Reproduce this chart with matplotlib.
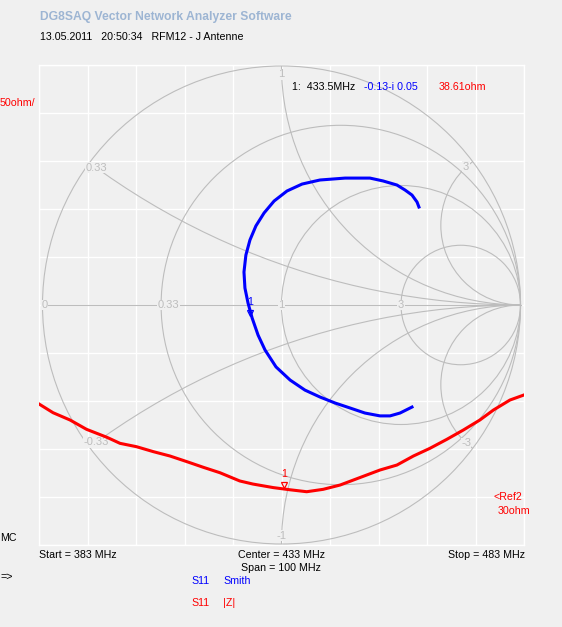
import numpy as np
import matplotlib.pyplot as plt
from matplotlib.patches import Circle
from matplotlib.transforms import offset_copy

plt.rcParams['font.family'] = ['Liberation Sans', 'DejaVu Sans']

# S11 Smith trace (reflection coefficient), 383 -> 483 MHz
s11_re = [0.546, 0.496, 0.454, 0.412, 0.349, 0.287, 0.224, 0.161, 0.098, 0.036,
          -0.023, -0.069, -0.098, -0.123, -0.140, -0.153, -0.157, -0.149, -0.132,
          -0.107, -0.073, -0.031, 0.023, 0.086, 0.161, 0.266, 0.370, 0.425, 0.483,
          0.517, 0.546, 0.567, 0.575]
s11_im = [-0.427, -0.452, -0.464, -0.464, -0.452, -0.431, -0.410, -0.385, -0.356,
          -0.314, -0.259, -0.188, -0.126, -0.054, 0.008, 0.071, 0.138, 0.209, 0.272,
          0.331, 0.385, 0.435, 0.477, 0.506, 0.523, 0.531, 0.531, 0.519, 0.502,
          0.481, 0.460, 0.431, 0.410]

# S11 |Z| trace in ohm
freq_mhz = [383.0, 385.9, 389.4, 392.8, 397.0, 399.7, 403.1, 406.6, 410.0, 413.5,
            416.9, 420.3, 424.4, 427.1, 431.3, 434.8, 438.2, 441.6, 445.1, 453.3,
            456.8, 460.2, 463.6, 467.1, 470.5, 473.9, 476.7, 480.1, 483.0]
z_mag = [126.9, 117.8, 110.2, 100.5, 92.2, 85.9, 82.4, 77.2, 72.7, 66.8,
         60.9, 55.3, 46.7, 43.5, 39.8, 37.5, 35.5, 38.0, 42.5, 58.1,
         63.3, 72.7, 80.7, 90.1, 99.8, 110.2, 120.6, 131.0, 136.3]

# marker 1
mk_freq = 433.5
mk_re, mk_im = -0.13, -0.05
mk_z = 38.61

# smith grid
r_values = [0, 0.33, 1, 3]
r_labels = ['0', '0.33', '1', '3']
x_values = [0.33, 1, 3, -0.33, -1, -3]
x_labels = ['0.33', '1', '3', '-0.33', '-1', '-3']

bg = '#f0f0f0'
gray = '#bdbdbd'
W, H = 562, 627
fs = 7.7

fig = plt.figure(figsize=(W / 100, H / 100), dpi=100, facecolor=bg)
pos = [39 / W, (H - 545) / H, 485 / W, 480 / H]

# |Z| axes with the white grid
ax_z = fig.add_axes(pos)
ax_z.set_facecolor(bg)
ax_z.set_xlim(383, 483)
ax_z.set_ylim(-20, 480)
ax_z.set_xticks(np.arange(383, 484, 10))
ax_z.set_yticks(np.arange(-20, 481, 50))
ax_z.grid(color='white', lw=1)
ax_z.tick_params(length=0, labelbottom=False, labelleft=False)
for s in ax_z.spines.values():
    s.set_color('white')
    s.set_linewidth(1)

# Smith axes
ax_s = fig.add_axes(pos, frameon=False)
ax_s.set_xlim(-242.5 / 239, 242.5 / 239)
ax_s.set_ylim(-240 / 239, 240 / 239)
ax_s.axis('off')

unit = Circle((0, 0), 1, fill=False, ec=gray, lw=0.8)
ax_s.add_patch(unit)
for r in r_values[1:]:
    ax_s.add_patch(Circle((r / (1 + r), 0), 1 / (1 + r), fill=False, ec=gray, lw=0.8))
for x in x_values:
    arc = Circle((1, 1 / x), 1 / abs(x), fill=False, ec=gray, lw=0.8)
    ax_s.add_patch(arc)
    arc.set_clip_path(unit)
ax_s.plot([-1, 1], [0, 0], color=gray, lw=0.8)

lab_kw = dict(color=gray, fontsize=fs + 0.3, ha='center', va='center',
              bbox=dict(fc=bg, ec='none', pad=0.3))
for r, lab in zip(r_values, r_labels):
    gx = (r - 1) / (r + 1)
    if r == 0:
        gx = -0.99
    if r == 0.33:
        gx += 0.03
    ax_s.text(gx, 0, lab, **lab_kw)
for x, lab in zip(x_values, x_labels):
    g = (1j * x - 1) / (1j * x + 1)
    ax_s.text(0.965 * g.real, 0.965 * g.imag, lab, **lab_kw)

ax_s.plot(s11_re, s11_im, color='#0000ff', lw=2.2)
tr = offset_copy(ax_s.transData, fig=fig, y=2.5, units='points')
ax_s.plot([mk_re], [mk_im], marker='v', ms=5, mfc='none', mec='#0000ff',
          mew=0.9, transform=tr)
ax_s.annotate('1', (mk_re, mk_im), xytext=(0, 7), textcoords='offset points',
              color='#0000ff', fontsize=fs, ha='center', va='bottom')

# |Z| trace on top
ax_r = fig.add_axes(pos, frameon=False)
ax_r.set_xlim(383, 483)
ax_r.set_ylim(-20, 480)
ax_r.axis('off')
ax_r.plot(freq_mhz, z_mag, color='#ff0000', lw=2.2)
tr = offset_copy(ax_r.transData, fig=fig, y=2.5, units='points')
ax_r.plot([mk_freq], [mk_z], marker='v', ms=5, mfc='none', mec='#ff0000',
          mew=0.9, transform=tr)
ax_r.annotate('1', (mk_freq, mk_z), xytext=(0, 7), textcoords='offset points',
              color='#ff0000', fontsize=fs, ha='center', va='bottom')


def txt(x, y, s, **kw):
    kw.setdefault('fontsize', fs)
    kw.setdefault('va', 'center')
    fig.text(x / W, 1 - y / H, s, **kw)


txt(40, 17, 'DG8SAQ Vector Network Analyzer Software', color='#9db5d3',
    fontweight='bold', fontsize=8.7)
txt(40, 37, '13.05.2011   20:50:34   RFM12 - J Antenne', color='black')
txt(0, 103, '50ohm/', color='#ff0000')
txt(292, 87, '1:  433.5MHz', color='black')
txt(364, 87, '-0.13-i 0.05', color='#0000ff')
txt(439, 87, '38.61ohm', color='#ff0000')
txt(494, 497, '<Ref2', color='#ff0000')
txt(498, 511, '30ohm', color='#ff0000')
txt(0, 538, 'MC', color='black')
txt(39, 555, 'Start = 383 MHz', color='black')
txt(281, 555, 'Center = 433 MHz', color='black', ha='center')
txt(281, 568, 'Span = 100 MHz', color='black', ha='center')
txt(525, 555, 'Stop = 483 MHz', color='black', ha='right')
txt(0, 577, '=>', color='black')
txt(191, 581, 'S11', color='#0000ff')
txt(223, 581, 'Smith', color='#0000ff')
txt(191, 603, 'S11', color='#ff0000')
txt(223, 603, '|Z|', color='#ff0000')

fig.savefig('out.png', dpi=100, facecolor=bg)
